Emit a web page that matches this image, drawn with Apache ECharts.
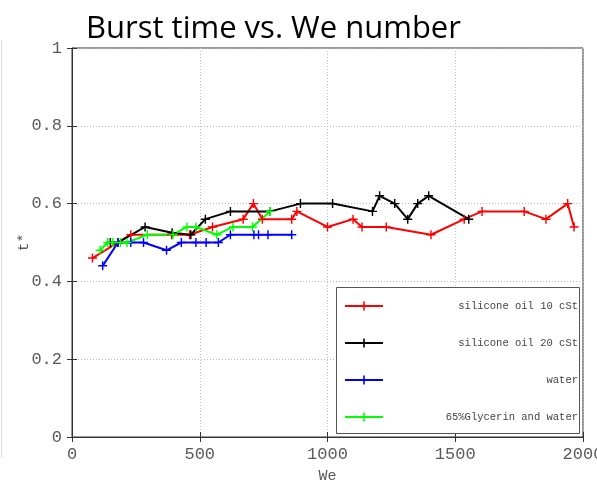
<!DOCTYPE html>
<html>
<head>
<meta charset="utf-8">
<style>
  html, body { margin: 0; padding: 0; background: #fff; }
  #chart { width: 597px; height: 489px; }
</style>
<script src="https://cdn.jsdelivr.net/npm/echarts@6/dist/echarts.min.js"></script>
</head>
<body>
<div id="chart"></div>
<script>
// Burst time t* against Weber number for four liquids
const seriesNames = ['silicone oil 10 cSt', 'silicone oil 20 cSt', 'water', '65%Glycerin and water'];
const seriesColors = ['#ff0000', '#000000', '#0000ff', '#00ff00'];

const oil10 = [[80,0.46],[230,0.52],[390,0.52],[460,0.52],[550,0.54],[670,0.56],[710,0.60],[745,0.56],[860,0.56],[880,0.58],[1000,0.54],[1100,0.56],[1135,0.54],[1230,0.54],[1405,0.52],[1535,0.56],[1605,0.58],[1770,0.58],[1855,0.56],[1940,0.60],[1965,0.54]];
const oil20 = [[150,0.50],[180,0.50],[286,0.54],[392,0.525],[465,0.52],[522,0.56],[620,0.58],[776,0.58],[894,0.60],[1020,0.60],[1176,0.58],[1204,0.62],[1263,0.60],[1314,0.56],[1353,0.60],[1396,0.62],[1553,0.56]];
const water = [[120,0.44],[180,0.50],[230,0.50],[280,0.50],[370,0.48],[428,0.50],[485,0.50],[525,0.50],[573,0.50],[620,0.52],[712,0.52],[730,0.52],[767,0.52],[860,0.52]];
const glycerin = [[110,0.48],[140,0.50],[160,0.50],[190,0.50],[215,0.50],[295,0.52],[395,0.52],[450,0.54],[485,0.54],[567,0.52],[630,0.54],[706,0.54],[776,0.58]];
const seriesData = [oil10, oil20, water, glycerin];

const xTicks = [0, 500, 1000, 1500, 2000];
const yTicks = ['0', '0.2', '0.4', '0.6', '0.8', '1'];

const PLUS = 'path://M4.2,0H5.8V4.2H10V5.8H5.8V10H4.2V5.8H0V4.2H4.2Z';
const MONO = '"Liberation Mono", "DejaVu Sans Mono", monospace';
const LABEL_GRAY = '#5a5a5a';

const chart = echarts.init(document.getElementById('chart'), null, { renderer: 'canvas' });

const series = seriesData.map((data, i) => ({
  name: seriesNames[i],
  type: 'line',
  data: data,
  symbol: PLUS,
  symbolSize: 9,
  showAllSymbol: true,
  lineStyle: { color: seriesColors[i], width: 2 },
  itemStyle: { color: seriesColors[i] },
  animation: false,
  z: 3
}));

// boxed key in the lower right of the plot
const legendX = 336, legendY = 287, legendW = 243, legendH = 146;
const legendGraphics = [{
  type: 'rect',
  shape: { x: legendX + 0.5, y: legendY + 0.5, width: legendW, height: legendH },
  style: { fill: '#fff', stroke: '#555', lineWidth: 1 },
  z: 5
}];
seriesNames.forEach((name, i) => {
  const cy = legendY + 19 + i * 37;
  const cx = legendX + 28;
  legendGraphics.push({
    type: 'line',
    shape: { x1: legendX + 9, y1: cy, x2: legendX + 47, y2: cy },
    style: { stroke: seriesColors[i], lineWidth: 2 },
    z: 6
  });
  legendGraphics.push({
    type: 'line',
    shape: { x1: cx, y1: cy - 4.5, x2: cx, y2: cy + 4.5 },
    style: { stroke: seriesColors[i], lineWidth: 1.6 },
    z: 6
  });
  legendGraphics.push({
    type: 'text',
    style: {
      text: name, x: legendX + legendW - 1, y: cy,
      textAlign: 'right', textVerticalAlign: 'middle',
      font: '10.5px ' + MONO, fill: '#444'
    },
    z: 6
  });
});

const option = {
  backgroundColor: '#fff',
  animation: false,
  title: {
    text: 'Burst time vs. We number',
    left: 81, top: 9,
    textStyle: { fontFamily: '"Open Sans", "Noto Sans", sans-serif', fontSize: 31, fontWeight: 'normal', color: '#000' }
  },
  grid: {
    left: 72, top: 48, right: 14, bottom: 52,
    containLabel: false, outerBoundsMode: 'none',
    show: true, borderColor: '#333', borderWidth: 1, backgroundColor: 'transparent'
  },
  xAxis: [{
    type: 'value', min: 0, max: 2000, interval: 500,
    name: 'We', nameLocation: 'middle', nameGap: 32,
    nameTextStyle: { fontFamily: MONO, fontSize: 15, color: LABEL_GRAY },
    axisLine: { show: true, lineStyle: { color: '#333' } },
    axisTick: { show: true, inside: true, length: 5, lineStyle: { color: '#333' } },
    axisLabel: { fontFamily: MONO, fontSize: 17, color: LABEL_GRAY, margin: 9, formatter: v => String(xTicks[Math.round(v / 500)]) },
    splitLine: { show: true, lineStyle: { color: '#bbb', type: [1, 2], width: 1 } }
  }, {
    type: 'value', min: 0, max: 2000, interval: 500, position: 'top',
    axisLine: { show: false },
    axisTick: { show: true, inside: true, length: 5, lineStyle: { color: '#333' } },
    axisLabel: { show: false }, splitLine: { show: false }
  }],
  yAxis: [{
    type: 'value', min: 0, max: 1, interval: 0.2,
    name: 't*', nameLocation: 'middle', nameGap: 40, nameRotate: 90,
    nameMoveOverlap: false,
    nameTextStyle: { fontFamily: MONO, fontSize: 15, color: LABEL_GRAY },
    axisLine: { show: true, lineStyle: { color: '#333' } },
    axisTick: { show: true, inside: true, length: 5, lineStyle: { color: '#333' } },
    axisLabel: { fontFamily: MONO, fontSize: 17, color: LABEL_GRAY, margin: 10, formatter: v => yTicks[Math.round(v / 0.2)] },
    splitLine: { show: true, lineStyle: { color: '#bbb', type: [1, 2], width: 1 } }
  }, {
    type: 'value', min: 0, max: 1, interval: 0.2, position: 'right',
    axisLine: { show: false },
    axisTick: { show: true, inside: true, length: 5, lineStyle: { color: '#333' } },
    axisLabel: { show: false }, splitLine: { show: false }
  }],
  graphic: [{
    type: 'line',
    shape: { x1: 1.5, y1: 40, x2: 1.5, y2: 458 },
    style: { stroke: '#ddd', lineWidth: 1 }
  }].concat(legendGraphics),
  series: series
};

chart.setOption(option);
</script>
</body>
</html>
